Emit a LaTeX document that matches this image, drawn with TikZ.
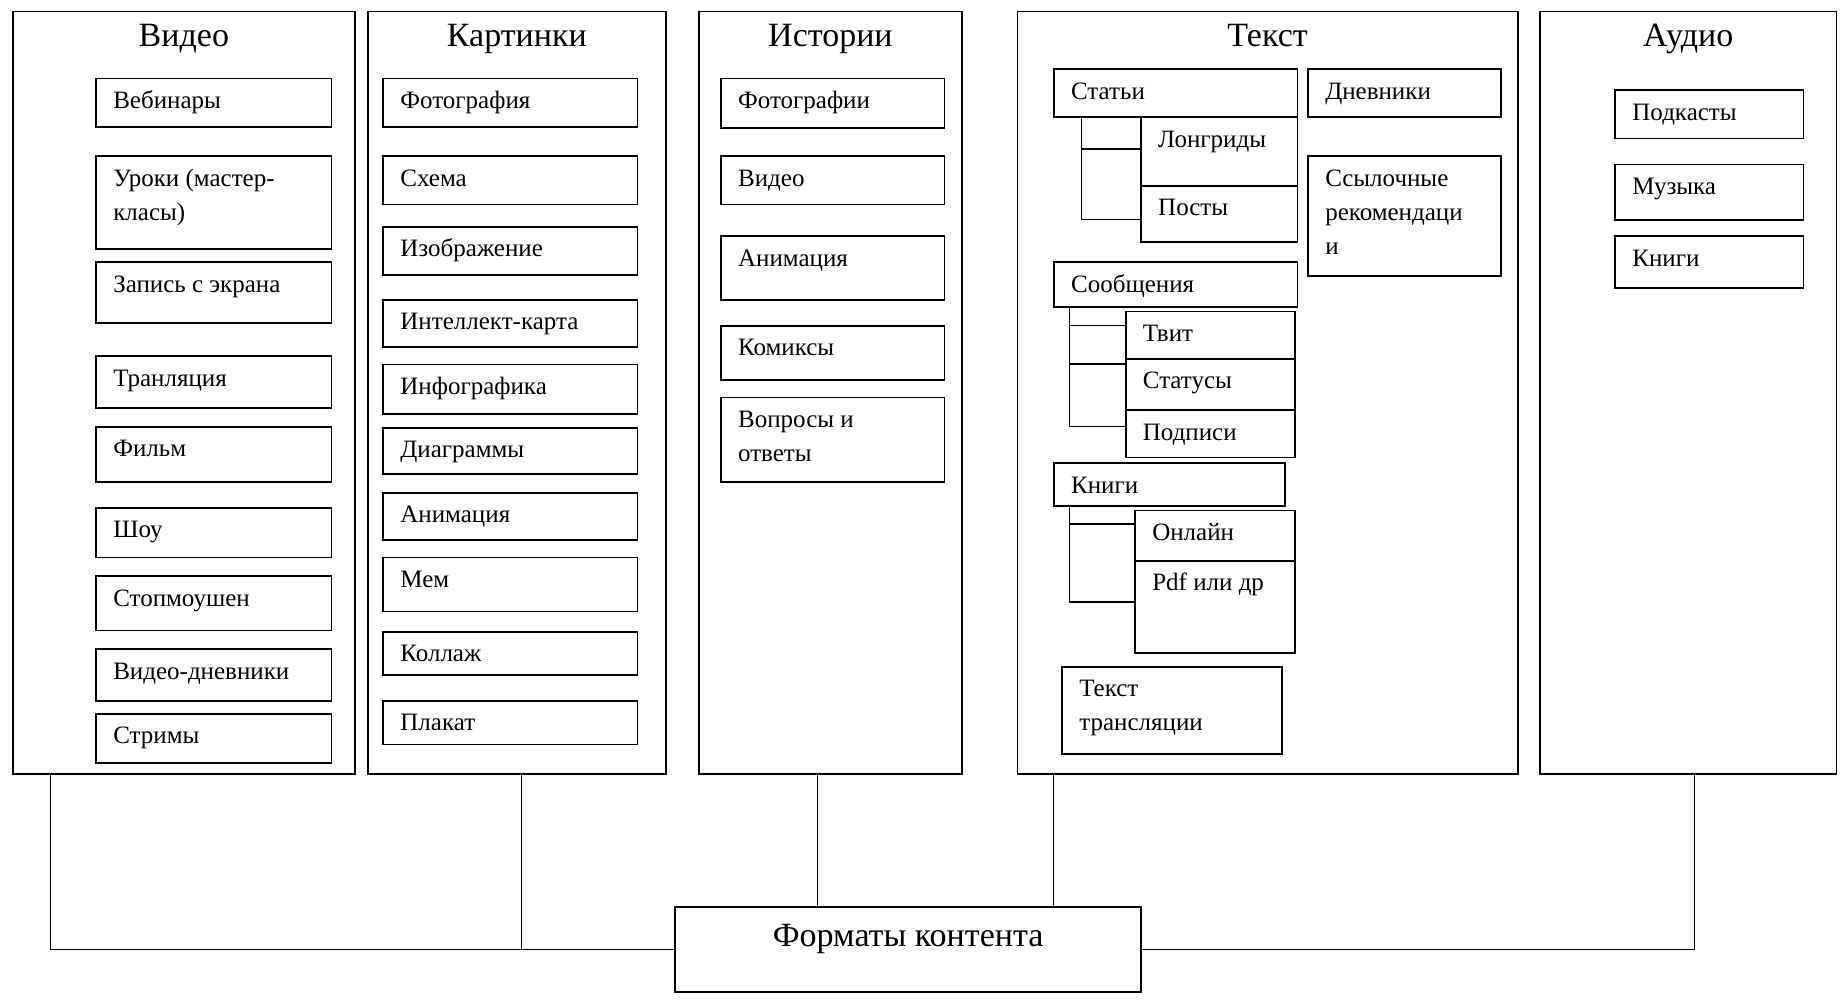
\documentclass[tikz,border=0pt]{standalone}
\usepackage{fontspec}
\setmainfont{Liberation Serif}
\usetikzlibrary{positioning}
\newcommand{\mline}[1]{\begin{tabular}[t]{@{}l@{}}#1\end{tabular}}
\tikzset{
  col/.style={draw, line width=0.9pt, anchor=north west, inner sep=0pt},
  item/.style={draw, line width=0.9pt, anchor=north west, inner sep=0pt},
  sz/.style 2 args={minimum width=#1*0.5883pt, minimum height=#2*0.5883pt},
  txt/.style={anchor=base west, inner sep=0pt, xshift=8.8pt, yshift=-15.4pt, font=\fontsize{12.5}{17}\selectfont},
  ttl/.style={anchor=base, inner sep=0pt, font=\fontsize{17}{20}\selectfont},
  link/.style={line width=0.6pt},
  brk/.style={line width=0.8pt},
}

\begin{document}
\begin{tikzpicture}[x=0.5883pt, y=-0.5883pt]
    \useasboundingbox (0,0) rectangle (1568,850);

    % Columns
    \node[col, sz={291}{648}] (video) at (10,9) {};
    \node[col, sz={253}{648}] (kart) at (312,9) {};
    \node[col, sz={224}{648}] (istor) at (593,9) {};
    \node[col, sz={425}{648}] (tekst) at (864,9) {};
    \node[col, sz={252}{648}] (audio) at (1308,9) {};
    \node[ttl] (videot) at ([yshift=-18.2pt]video.north) {Видео};
    \node[ttl] (kartt) at ([yshift=-18.2pt]kart.north) {Картинки};
    \node[ttl] (istort) at ([yshift=-18.2pt]istor.north) {Истории};
    \node[ttl] (tekstt) at ([yshift=-18.2pt]tekst.north) {Текст};
    \node[ttl] (audiot) at ([yshift=-18.2pt]audio.north) {Аудио};

    % Video
    \node[item, sz={200}{41}, label={[txt]north west:Вебинары}] (vebinar) at (81,66) {};
    \node[item, sz={200}{79}, label={[txt]north west:\mline{Уроки (мастер-\\класы)}}] (uroki) at (81,132) {};
    \node[item, sz={200}{52}, label={[txt]north west:Запись с экрана}] (zapis) at (81,222) {};
    \node[item, sz={200}{44}, label={[txt]north west:Транляция}] (tranl) at (81,302) {};
    \node[item, sz={200}{47}, label={[txt]north west:Фильм}] (film) at (81,362) {};
    \node[item, sz={200}{42}, label={[txt]north west:Шоу}] (shou) at (81,431) {};
    \node[item, sz={200}{46}, label={[txt]north west:Стопмоушен}] (stop) at (81,489) {};
    \node[item, sz={200}{44}, label={[txt]north west:Видео-дневники}] (vdnev) at (81,551) {};
    \node[item, sz={200}{42}, label={[txt]north west:Стримы}] (strim) at (81,606) {};

    % Kartinki
    \node[item, sz={216}{41}, label={[txt]north west:Фотография}] (foto) at (325,66) {};
    \node[item, sz={216}{41}, label={[txt]north west:Схема}] (shema) at (325,132) {};
    \node[item, sz={216}{41}, label={[txt]north west:Изображение}] (izobr) at (325,192) {};
    \node[item, sz={216}{40}, label={[txt]north west:Интеллект-карта}] (intel) at (325,254) {};
    \node[item, sz={216}{42}, label={[txt]north west:Инфографика}] (infogr) at (325,309) {};
    \node[item, sz={216}{39}, label={[txt]north west:Диаграммы}] (diagr) at (325,363) {};
    \node[item, sz={216}{40}, label={[txt]north west:Анимация}] (kanim) at (325,418) {};
    \node[item, sz={216}{46}, label={[txt]north west:Мем}] (mem) at (325,473) {};
    \node[item, sz={216}{37}, label={[txt]north west:Коллаж}] (kollazh) at (325,536) {};
    \node[item, sz={216}{37}, label={[txt]north west:Плакат}] (plakat) at (325,595) {};

    % Istorii
    \node[item, sz={190}{42}, label={[txt]north west:Фотографии}] (ifoto) at (612,66) {};
    \node[item, sz={190}{41}, label={[txt]north west:Видео}] (ivideo) at (612,132) {};
    \node[item, sz={190}{54}, label={[txt]north west:Анимация}] (ianim) at (612,200) {};
    \node[item, sz={190}{46}, label={[txt]north west:Комиксы}] (ikomiks) at (612,276) {};
    \node[item, sz={190}{72}, label={[txt]north west:\mline{Вопросы и\\ответы}}] (ivopr) at (612,337) {};

    % Tekst
    \node[item, sz={207}{41}, label={[txt]north west:Статьи}] (stati) at (895,58) {};
    \node[item, sz={133}{58}, label={[txt]north west:Лонгриды}] (longr) at (969,99) {};
    \node[item, sz={133}{48}, label={[txt]north west:Посты}] (posty) at (969,157) {};
    \node[item, sz={164}{41}, label={[txt]north west:Дневники}] (dnev) at (1111,58) {};
    \node[item, sz={164}{102}, label={[txt]north west:\mline{Ссылочные\\рекомендаци\\и}}] (ssyl) at (1111,132) {};
    \node[item, sz={207}{38}, label={[txt]north west:Сообщения}] (soob) at (895,222) {};
    \node[item, sz={144}{40}, label={[txt]north west:Твит}] (tvit) at (956,264) {};
    \node[item, sz={144}{44}, label={[txt]north west:Статусы}] (status) at (956,304) {};
    \node[item, sz={144}{40}, label={[txt]north west:Подписи}] (podp) at (956,348) {};
    \node[item, sz={196}{36}, label={[txt]north west:Книги}] (knigi) at (895,393) {};
    \node[item, sz={136}{43}, label={[txt]north west:Онлайн}] (onlain) at (964,433) {};
    \node[item, sz={136}{78}, label={[txt]north west:Pdf или др}] (pdf) at (964,476) {};
    \node[item, sz={187}{74}, label={[txt]north west:\mline{Текст\\трансляции}}] (tekstr) at (902,566) {};

    % Tekst brackets
    \draw[brk] (stati.south west) ++(24,0) coordinate (s1) -- ++(0,86) -- ++(50,0);
    \draw[brk] (s1) ++(0,26) -- ++(50,0);
    \draw[brk] (soob.south west) ++(14,0) coordinate (m1) -- ++(0,101) -- ++(47,0);
    \draw[brk] (m1) ++(0,15) -- ++(47,0);
    \draw[brk] (m1) ++(0,48) -- ++(47,0);
    \draw[brk] (knigi.south west) ++(14,0) coordinate (b1) -- ++(0,81) -- ++(55,0);
    \draw[brk] (b1) ++(0,15) -- ++(55,0);

    % Audio
    \node[item, sz={160}{41}, label={[txt]north west:Подкасты}] (podk) at (1372,76) {};
    \node[item, sz={160}{47}, label={[txt]north west:Музыка}] (muz) at (1372,139) {};
    \node[item, sz={160}{44}, label={[txt]north west:Книги}] (aknigi) at (1372,200) {};

    % Bottom box
    \node[item, sz={396}{72}] (fmt) at (573,770) {};
    \node[anchor=base, inner sep=0pt, font=\fontsize{17}{20}\selectfont] (fmtt) at ([yshift=-20pt]fmt.north) {Форматы контента};

    % Links to bottom box
    \draw[link] (video.south west) ++(33,0) |- (fmt.west);
    \draw[link] (kart.south west) ++(131,0) coordinate (k1) -- (k1 |- fmt.west);
    \draw[link] (istor.south west) ++(102,0) coordinate (i1) -- (i1 |- fmt.north);
    \draw[link] (tekst.south west) ++(31,0) coordinate (t1) -- (t1 |- fmt.north);
    \draw[link] (audio.south west) ++(132,0) |- (fmt.east);
\end{tikzpicture}
\end{document}
